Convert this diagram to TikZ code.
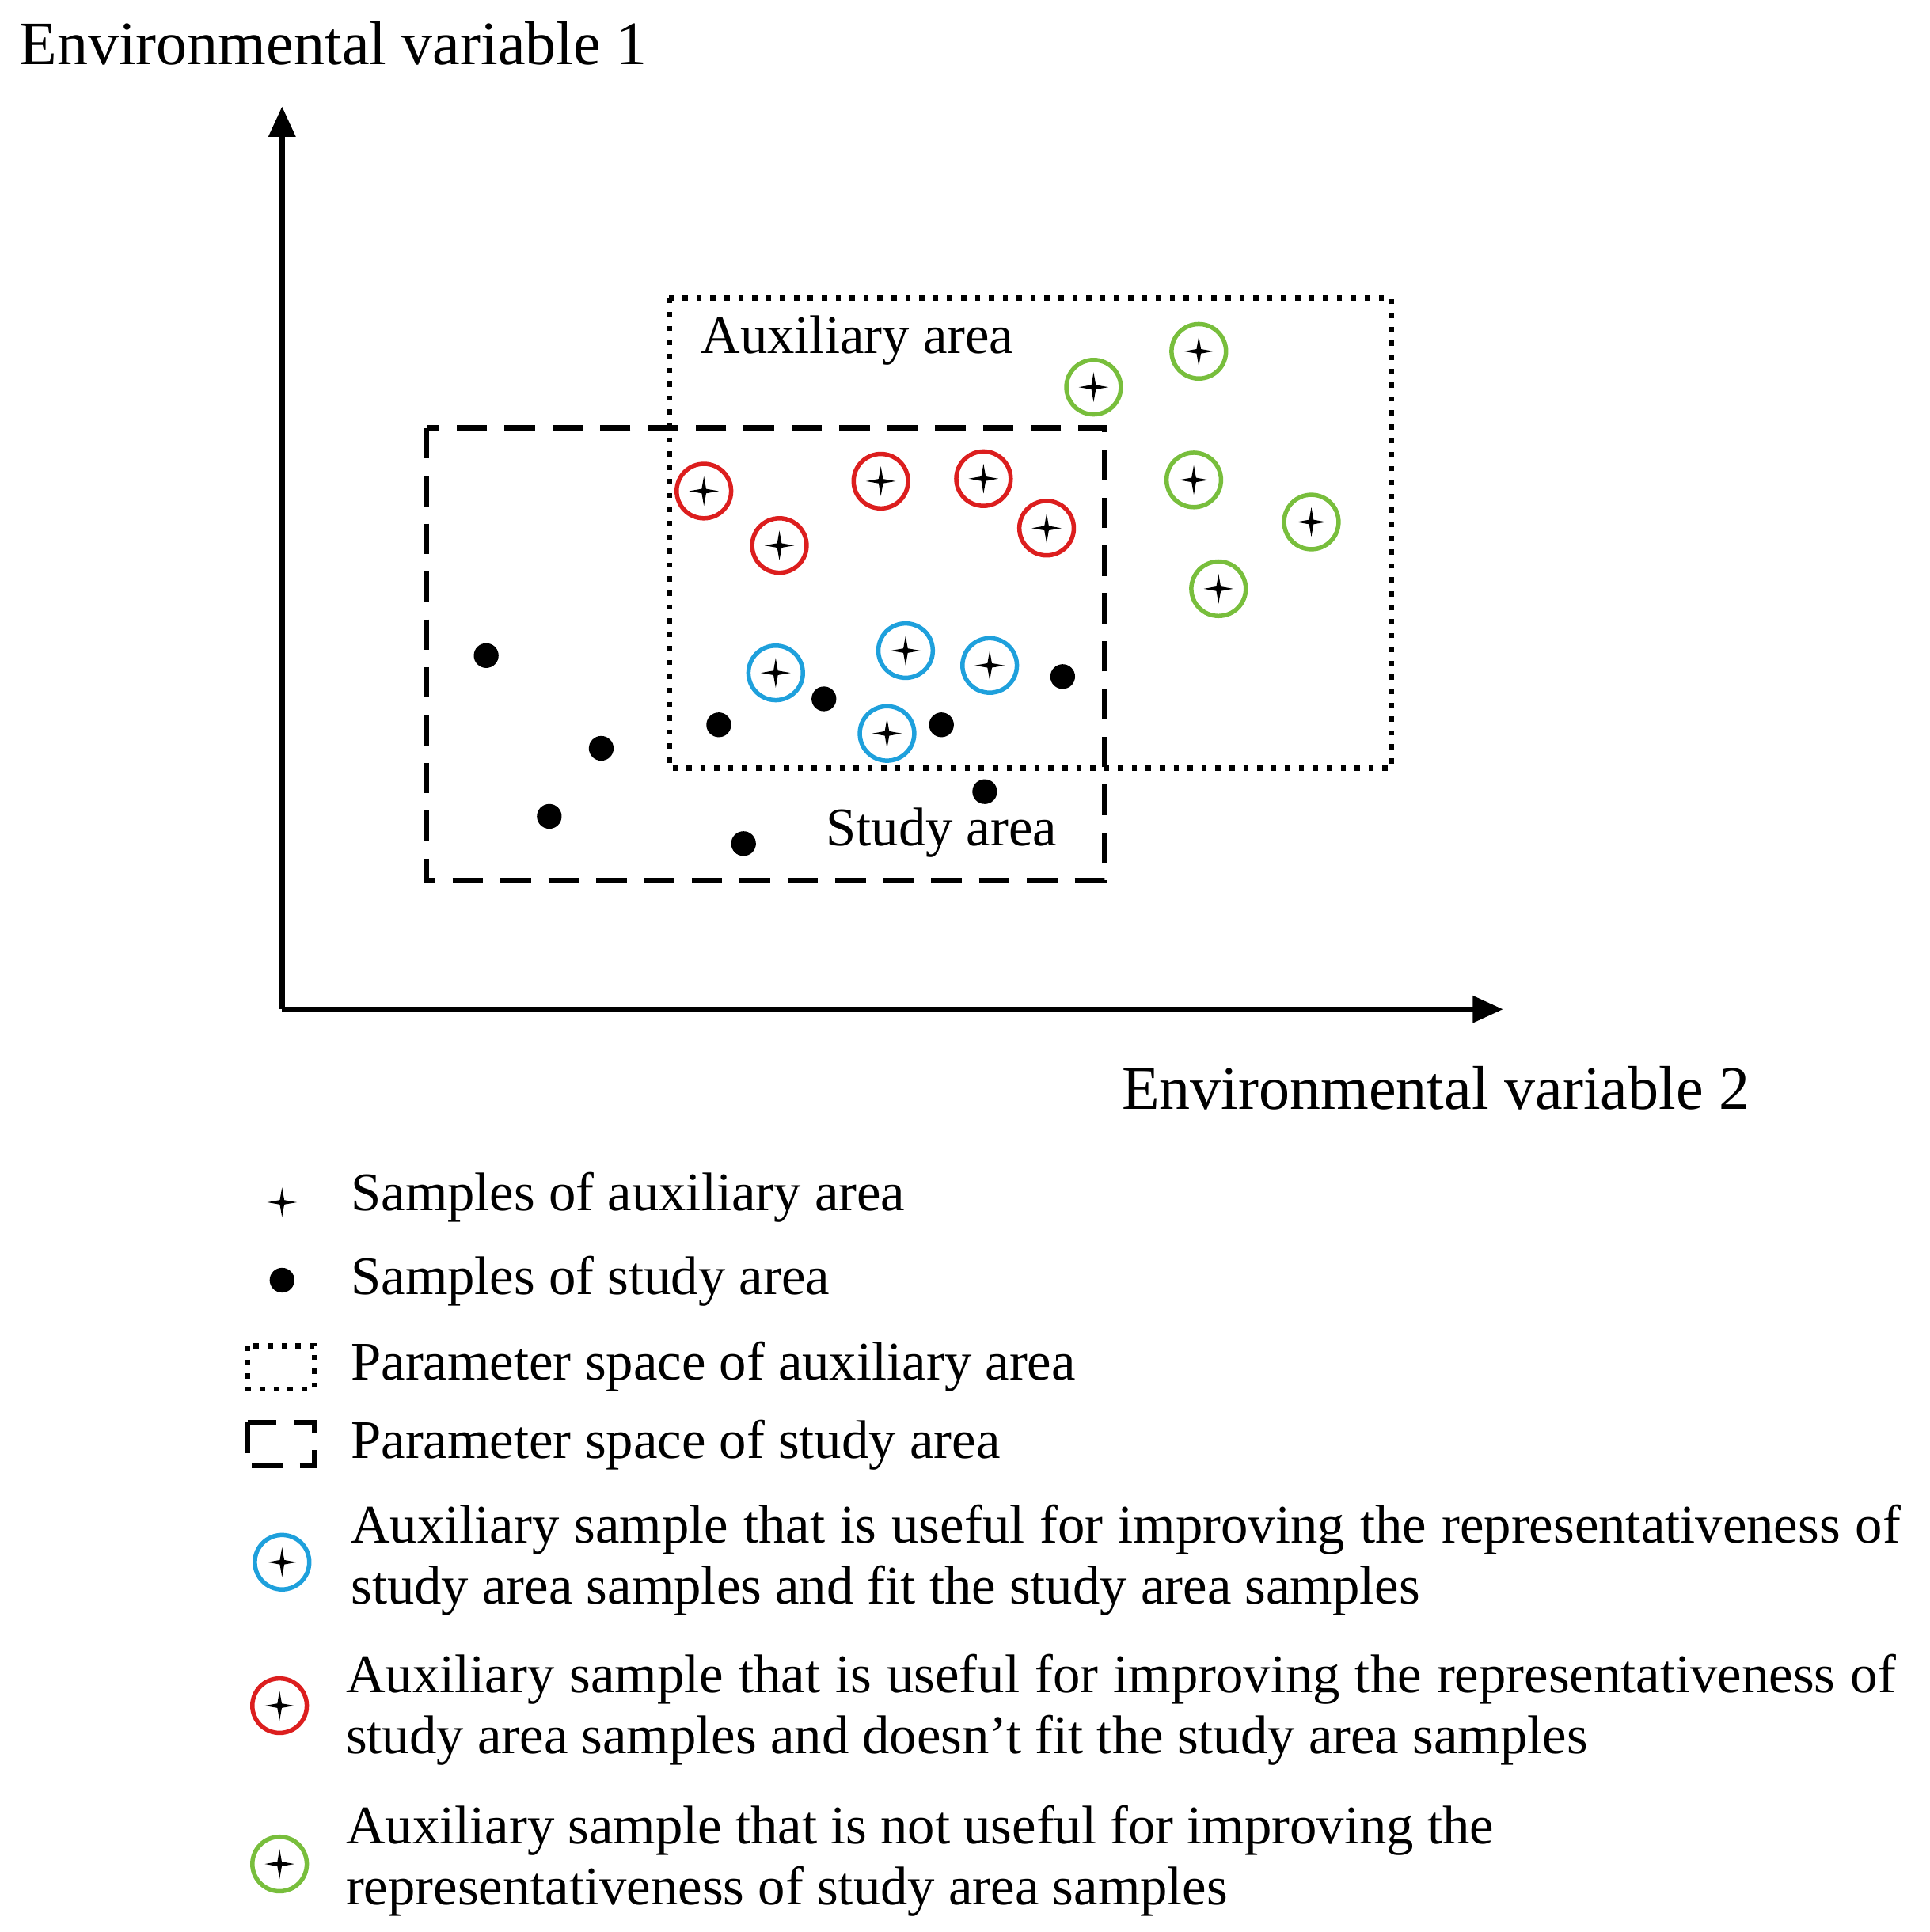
\documentclass[tikz,border=0pt]{standalone}
\usepackage{fontspec}
\setmainfont{Liberation Serif}
\usetikzlibrary{arrows.meta}
\definecolor{gr}{RGB}{120,190,60}
\definecolor{rd}{RGB}{220,30,30}
\definecolor{bl}{RGB}{30,160,220}
\tikzset{
 x=0.01cm,y=-0.01cm,
 txt/.style={font=\fontsize{12.5}{15}\selectfont,inner sep=0pt},
 big/.style={font=\fontsize{14.2}{17}\selectfont,inner sep=0pt},
 ax/.style={line width=1.2pt,-{Triangle[length=7pt,width=6pt]}},
 dotpt/.style={circle,fill=black,minimum size=0.2cm,inner sep=0pt},
 ring/.style={circle,draw=#1,line width=1pt,minimum size=0.44cm,inner sep=0pt},
 pics/star/.style={code={\fill (0,12)--(1.8,1.8)--(12,0)--(1.8,-1.8)--(0,-12)--(-1.8,-1.8)--(-12,0)--(-1.8,1.8)--cycle;}}
}
\newcommand{\samp}[3]{\node[ring=#1] (#3) at #2 {}; \pic at #2 {star};}
\begin{document}
\begin{tikzpicture}
\useasboundingbox (0,0) rectangle (1560,1562);
\node[big,anchor=west] (t1) at (15,35) {Environmental variable 1};
\coordinate (o) at (228,816);
\coordinate (ytip) at (228,86);
\coordinate (xtip) at (1215,816);
\draw[ax] (o) -- (ytip);
\draw[ax] (o) -- (xtip);
\node[big,anchor=east] (t2) at (1415,880) {Environmental variable 2};
\draw[line width=1.2pt,dotted] (541,241) rectangle (1125,621);
\draw[line width=1.2pt,dash pattern=on 7pt off 4pt] (345,346) rectangle (893,712);
\node[txt,anchor=west] (aux) at (566,275) {Auxiliary area};
\node[txt,anchor=west] (stu) at (667,673) {Study area};
\foreach \p [count=\i] in {(884,313),(969,284),(965,388),(1060,422),(985,476)} {\samp{gr}{\p}{g\i}}
\foreach \p [count=\i] in {(569,397),(630,441),(712,389),(795,387),(846,427)} {\samp{rd}{\p}{r\i}}
\foreach \p [count=\i] in {(627,544),(732,526),(800,538),(717,593)} {\samp{bl}{\p}{b\i}}
\foreach \p [count=\i] in {(393,530),(486,605),(444,660),(581,586),(666,565),(761,586),(859,547),(796,640),(601,682)} {\node[dotpt] (d\i) at \p {};}
% legend
\pic at (228,972) {star};
\node[txt,anchor=west] (l1) at (283,968) {Samples of auxiliary area};
\node[dotpt] (ld) at (228,1035) {};
\node[txt,anchor=west] (l2) at (283,1036) {Samples of study area};
\draw[line width=1.2pt,dotted] (200,1088) rectangle (254,1123);
\node[txt,anchor=west] (l3) at (283,1105) {Parameter space of auxiliary area};
\draw[line width=1.2pt,dash pattern=on 7pt off 4pt] (200,1150) rectangle (254,1185);
\node[txt,anchor=west] (l4) at (283,1168) {Parameter space of study area};
\samp{bl}{(228,1263)}{lb}
\node[txt,anchor=north west,align=left] (l5) at (283,1216) {\makebox[12.52cm][s]{Auxiliary sample that is useful for improving the representativeness of}\\[-1pt]study area samples and fit the study area samples};
\samp{rd}{(226,1379)}{lr}
\node[txt,anchor=north west,align=left] (l6) at (279,1337) {\makebox[12.52cm][s]{Auxiliary sample that is useful for improving the representativeness of}\\[-1pt]study area samples and doesn’t fit the study area samples};
\samp{gr}{(226,1507)}{lg}
\node[txt,anchor=north west,align=left] (l7) at (279,1459) {Auxiliary sample that is not useful for improving the\\[-1pt]representativeness of study area samples};
\end{tikzpicture}
\end{document}
